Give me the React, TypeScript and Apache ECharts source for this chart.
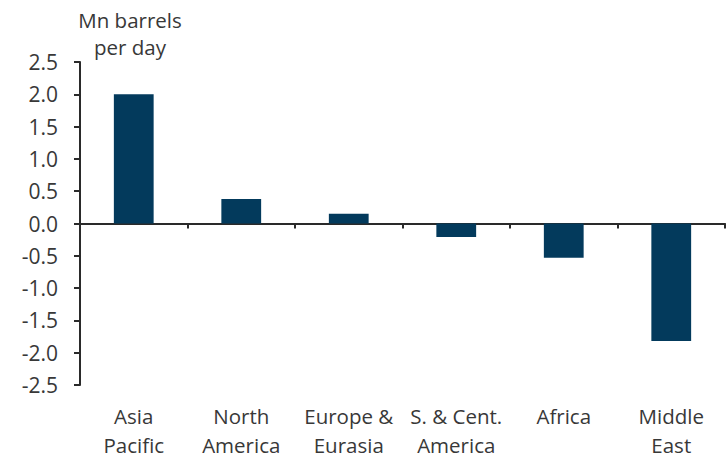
import React, { useEffect, useRef } from "react";
import * as echarts from "echarts";

const categories = [
  "Asia\nPacific",
  "North\nAmerica",
  "Europe &\nEurasia",
  "S. & Cent.\nAmerica",
  "Africa",
  "Middle\nEast",
];
const values = [2.0, 0.38, 0.15, -0.21, -0.53, -1.82];
const unitLabel = "Mn barrels\nper day";

const FONT = "'Open Sans', sans-serif";
const TEXT = "#383838";
const AXIS = "#2a2a2a";
const BAR = "#033a5c";

export default function App() {
  const ref = useRef<HTMLDivElement>(null);
  useEffect(() => {
    if (!ref.current) return;
    const chart = echarts.init(ref.current, null, { renderer: "svg" });
    chart.setOption({
      animation: false,
      backgroundColor: "#ffffff",
      grid: { left: 80, right: 1, top: 62, bottom: 72, containLabel: false },
      graphic: [
        {
          type: "text",
          x: 130,
          y: 6,
          style: {
            text: unitLabel,
            fontFamily: FONT,
            fontSize: 20.5,
            lineHeight: 27,
            fill: TEXT,
            textAlign: "center",
            textVerticalAlign: "top",
          },
        },
      ],
      xAxis: [
        {
          type: "category",
          data: categories,
          position: "bottom",
          axisLine: { show: false, onZero: false },
          axisTick: { show: false },
          axisLabel: {
            interval: 0,
            margin: 16,
            fontFamily: FONT,
            fontSize: 20.5,
            lineHeight: 29,
            color: TEXT,
          },
        },
        {
          type: "category",
          data: categories,
          position: "bottom",
          axisLine: { show: true, onZero: true, lineStyle: { color: AXIS, width: 2 } },
          axisTick: { show: true, inside: false, length: 5, lineStyle: { color: AXIS, width: 2 } },
          axisLabel: { show: false },
        },
      ],
      yAxis: {
        type: "value",
        min: -2.5,
        max: 2.5,
        interval: 0.5,
        splitLine: { show: false },
        axisLine: { show: true, lineStyle: { color: AXIS, width: 2 } },
        axisTick: { show: true, inside: false, length: 6, lineStyle: { color: AXIS, width: 2 } },
        axisLabel: {
          margin: 22,
          fontFamily: FONT,
          fontSize: 21,
          color: TEXT,
          formatter: (v: number) => v.toFixed(1),
        },
      },
      series: [
        {
          type: "bar",
          xAxisIndex: 0,
          data: values,
          barWidth: "37%",
          itemStyle: { color: BAR },
        },
      ],
    });
    return () => chart.dispose();
  }, []);
  return (
    <div
      ref={ref}
      style={{ position: "fixed", left: 0, top: 0, width: 726, height: 459, background: "#fff" }}
    />
  );
}
